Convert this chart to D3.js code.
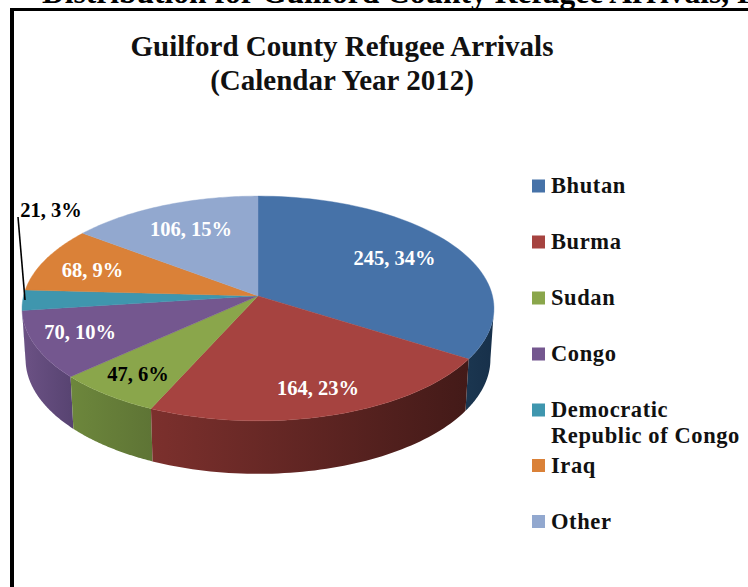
<!DOCTYPE html>
<html><head><meta charset="utf-8">
<script src="https://cdn.jsdelivr.net/npm/d3@7"></script>
<style>html,body{margin:0;padding:0;background:#fff;overflow:hidden}svg{display:block}</style>
</head><body><svg id="c" width="748" height="587"></svg>
<script>
const categories = ["Bhutan","Burma","Sudan","Congo","Democratic Republic of Congo","Iraq","Other"];
const values = [245,164,47,70,21,68,106];
const percents = [34,23,6,10,3,9,15];
const topColors = ["#4672A8","#A64340","#8AA64B","#74578F","#3F96AE","#DA8138","#92A8CF"];
const wallStops = [["#1b3650","#17304a"],["#7c302d","#431a18"],["#6d873c","#5e7435"],["#6c5285","#574371"],["#2f7082","#2f7082"],["#a5612a","#a5612a"],["#6d7e9b","#6d7e9b"]];
const labelColors = ["#fff","#fff","#000","#fff","#000","#fff","#fff"];
const titleLines = ["Guilford County Refugee Arrivals","(Calendar Year 2012)"];

const svg = d3.select("#c");
const serif = "'Liberation Serif','Times New Roman',serif";

// page heading, clipped by the top of the picture as in the reference
svg.append("text").attr("x",414).attr("y",3).attr("text-anchor","middle")
  .attr("font-family",serif).attr("font-weight","bold").attr("font-size",31.5)
  .text("Distribution for Guilford County Refugee Arrivals, For");

// frame: white panel, then top and left rules
svg.append("rect").attr("x",12).attr("y",10).attr("width",740).attr("height",580).attr("fill","#fff");
svg.append("line").attr("x1",10).attr("x2",748).attr("y1",9.5).attr("y2",9.5).attr("stroke","#000").attr("stroke-width",3);
svg.append("line").attr("x1",12).attr("x2",12).attr("y1",8).attr("y2",587).attr("stroke","#000").attr("stroke-width",4);

const title = svg.append("text").attr("text-anchor","middle").attr("font-family",serif)
  .attr("font-weight","bold").attr("font-size",29).attr("fill","#111");
titleLines.forEach((t,i)=>title.append("tspan").attr("x",342).attr("y",56+i*34).text(t));

// perspective projection of the pie disc
const cx=258, cy=296, R=234.5, S=111, k=0.111;
const px=d3.scaleLinear().domain([-1,1]).range([cx-R,cx+R]);
const py=d3.scaleLinear().domain([-1,1]).range([cy+S,cy-S]);
const top3=a=>{const d=1+k*Math.cos(a);return [px(Math.sin(a)/d),py(Math.cos(a)/d)];};
const bot3=a=>{const p=top3(a);return [cx+(p[0]-cx)*0.985,cy+(p[1]-cy)*1.02+50.5];};
const line=d3.line();
const arcs=d3.pie().sort(null)(values);
const arcSamples=(a0,a1)=>d3.range(0,61).map(i=>a0+(a1-a0)*i/60);

const defs=svg.append("defs");
const sideStart=Math.acos(-k), sideEnd=2*Math.PI-Math.acos(-k);
const walls=svg.append("g"), faces=svg.append("g");
// walls drawn from the back to the front
arcs.map((d,i)=>({d,i}))
  .filter(o=>o.d.endAngle>sideStart&&o.d.startAngle<sideEnd)
  .sort((a,b)=>Math.abs((a.d.startAngle+a.d.endAngle)/2-Math.PI)<Math.abs((b.d.startAngle+b.d.endAngle)/2-Math.PI)?1:-1)
  .forEach(({d,i})=>{
    const a0=Math.max(d.startAngle,sideStart),a1=Math.min(d.endAngle,sideEnd);
    const s=arcSamples(a0,a1);
    const pts=s.map(top3).concat(s.slice().reverse().map(bot3));
    const xs=d3.extent(pts,p=>p[0]);
    const g=defs.append("linearGradient").attr("id","w"+i).attr("gradientUnits","userSpaceOnUse")
      .attr("x1",xs[0]).attr("x2",xs[1]).attr("y1",0).attr("y2",0);
    g.append("stop").attr("offset",0).attr("stop-color",wallStops[i][0]);
    g.append("stop").attr("offset",1).attr("stop-color",wallStops[i][1]);
    walls.append("path").attr("d",line(pts)+"Z").attr("fill",`url(#w${i})`);
  });
arcs.forEach((d,i)=>{
  const pts=[[px(0),py(0)]].concat(arcSamples(d.startAngle,d.endAngle).map(top3));
  faces.append("path").attr("d",line(pts)+"Z").attr("fill",topColors[i])
    .attr("stroke",topColors[i]).attr("stroke-width",0.4);
});

// data labels
const labelSpots=[[394.5,260],[318,390.5],[138,376.5],[80,334],[51,212.5],[92.5,272],[191,231.5]];
arcs.forEach((d,i)=>{
  svg.append("text").attr("x",labelSpots[i][0]).attr("y",labelSpots[i][1])
   .attr("text-anchor","middle").attr("dominant-baseline","middle")
   .attr("font-family",serif).attr("font-weight","bold").attr("font-size",20.5)
   .attr("fill",labelColors[i]).text(`${values[i]}, ${percents[i]}%`);
});
// leader line for the small slice
svg.append("line").attr("x1",18).attr("y1",217).attr("x2",25).attr("y2",300)
  .attr("stroke","#000").attr("stroke-width",1.6);

// legend
const legendY=[186,242,298,354,410,465.5,521.5];
const legend=svg.append("g").attr("font-family",serif).attr("font-weight","bold").attr("font-size",22.5).attr("fill","#111");
categories.forEach((c,i)=>{
  legend.append("rect").attr("x",532).attr("y",legendY[i]-6.5).attr("width",13).attr("height",13).attr("fill",topColors[i]);
  const parts=i===4?["Democratic","Republic of Congo"]:[c];
  parts.forEach((p,j)=>legend.append("text").attr("x",551).attr("y",legendY[i]+7+j*26).attr("letter-spacing",0.6).text(p));
});
</script></body></html>
